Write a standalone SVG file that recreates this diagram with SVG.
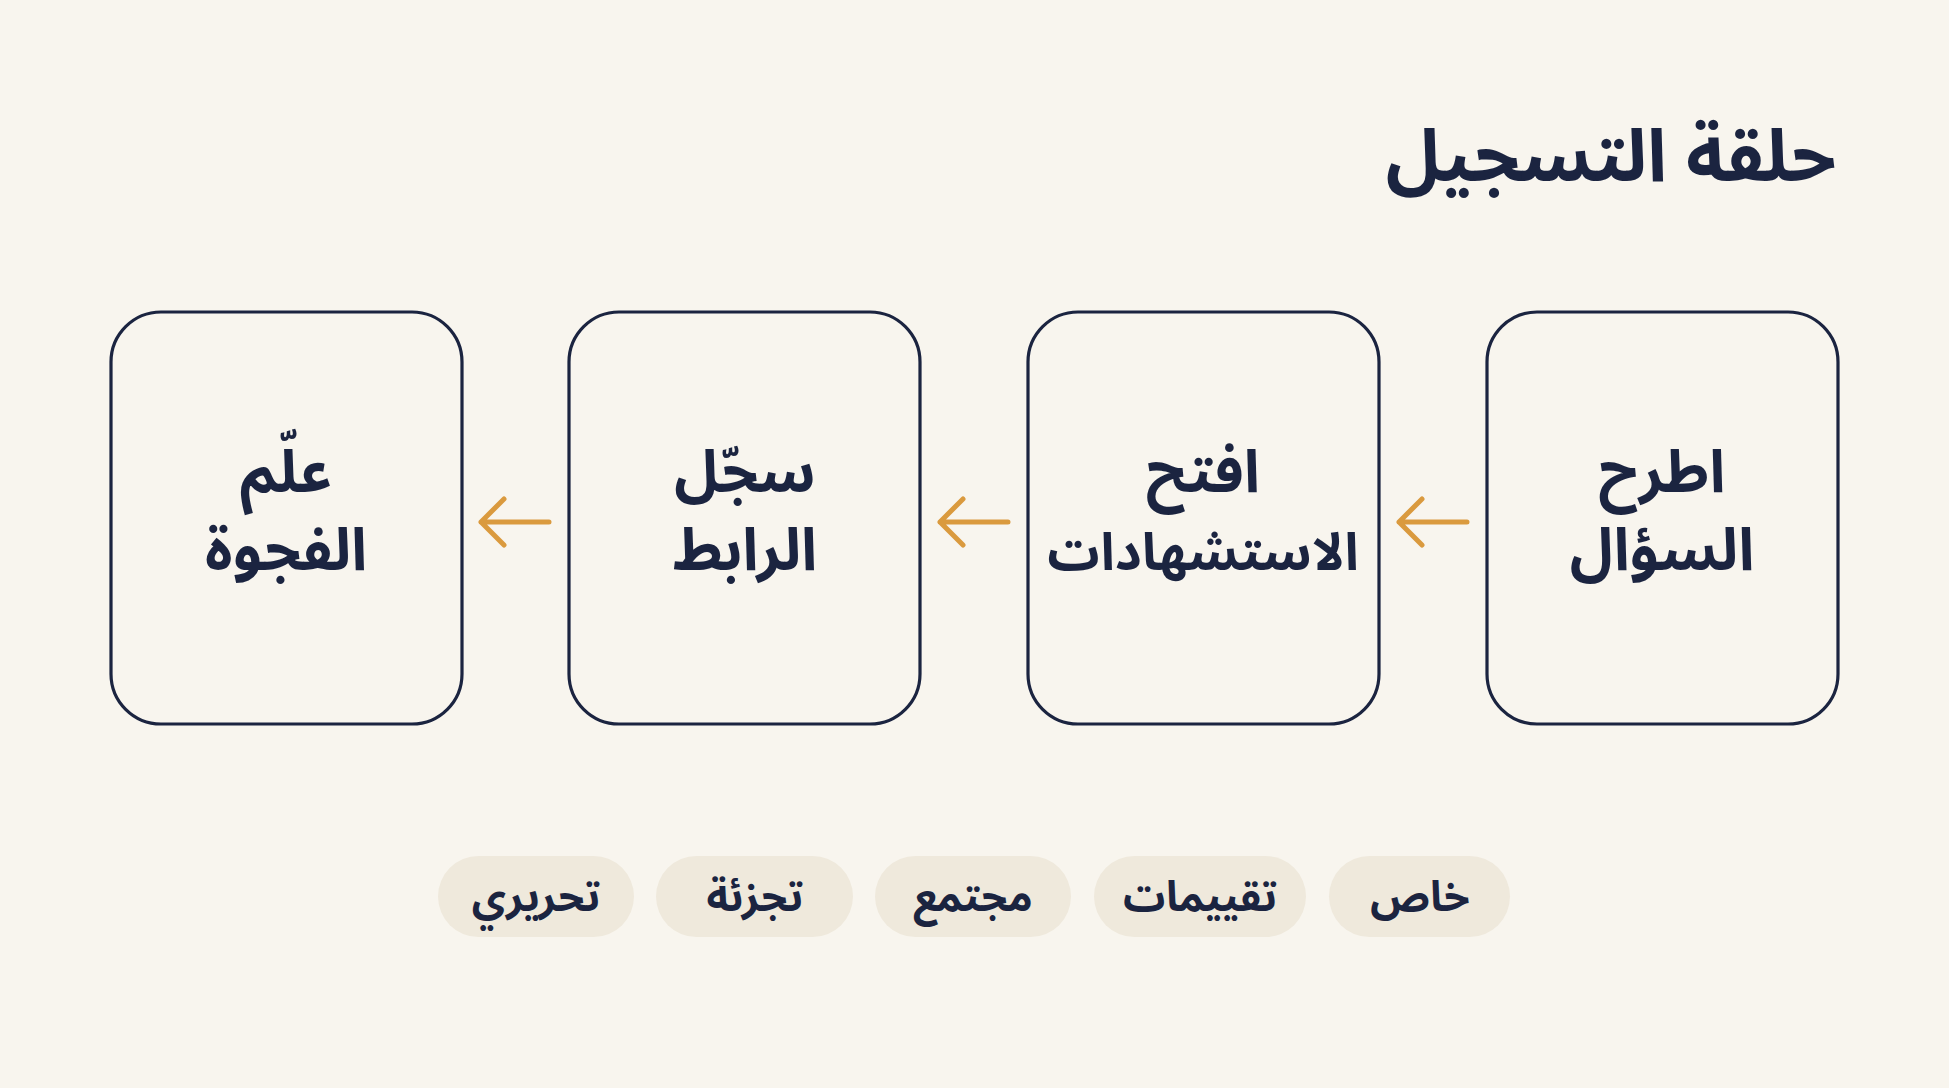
<svg xmlns="http://www.w3.org/2000/svg" width="1949" height="1088" viewBox="0 0 1949 1088">
<style>
.t{font-family:"Noto Sans Arabic","Noto Kufi Arabic","DejaVu Sans",sans-serif;font-weight:700;fill:#1B2440;text-anchor:middle}
.box{fill:none;stroke:#1B2440;stroke-width:3.2}
.pill{fill:#EFE9DC}
.arr{fill:none;stroke:#DA9A3E;stroke-width:5;stroke-linecap:round;stroke-linejoin:round}
.node{font-size:59px}
.tag{font-size:42px}
</style>
<rect width="1949" height="1088" fill="#F8F5EE"/>
<text class="t" x="1611" y="181" style="font-size:73px" direction="rtl">حلقة التسجيل</text>
<g id="n1"><rect class="box" x="1487" y="312" width="351" height="412" rx="50"/><text class="t node" direction="rtl"><tspan x="1662" y="492">اطرح</tspan><tspan x="1662" y="570">السؤال</tspan></text></g>
<g id="n2"><rect class="box" x="1028" y="312" width="351" height="412" rx="50"/><text class="t node" direction="rtl"><tspan x="1203" y="492">افتح</tspan><tspan x="1203" y="570" style="font-size:52px">الاستشهادات</tspan></text></g>
<g id="n3"><rect class="box" x="569" y="312" width="351" height="412" rx="50"/><text class="t node" direction="rtl"><tspan x="745" y="492">سجّل</tspan><tspan x="745" y="570">الرابط</tspan></text></g>
<g id="n4"><rect class="box" x="111" y="312" width="351" height="412" rx="50"/><text class="t node" direction="rtl"><tspan x="286" y="492">علّم</tspan><tspan x="286" y="570">الفجوة</tspan></text></g>
<g id="connectors">
<path class="arr" d="M1467 522H1399M1422 499L1399 522L1422 545"/>
<path class="arr" d="M1008 522H940M963 499L940 522L963 545"/>
<path class="arr" d="M549 522H481M504 499L481 522L504 545"/>
</g>
<g id="tags">
<g id="tag1"><rect class="pill" x="1329" y="856" width="181" height="81" rx="40.5"/><text class="t tag" x="1420" y="911" direction="rtl">خاص</text></g>
<g id="tag2"><rect class="pill" x="1094" y="856" width="212" height="81" rx="40.5"/><text class="t tag" x="1200" y="911" direction="rtl">تقييمات</text></g>
<g id="tag3"><rect class="pill" x="875" y="856" width="196" height="81" rx="40.5"/><text class="t tag" x="973" y="911" direction="rtl">مجتمع</text></g>
<g id="tag4"><rect class="pill" x="656" y="856" width="197" height="81" rx="40.5"/><text class="t tag" x="755" y="911" direction="rtl">تجزئة</text></g>
<g id="tag5"><rect class="pill" x="438" y="856" width="196" height="81" rx="40.5"/><text class="t tag" x="536" y="911" direction="rtl">تحريري</text></g>
</g>
</svg>
